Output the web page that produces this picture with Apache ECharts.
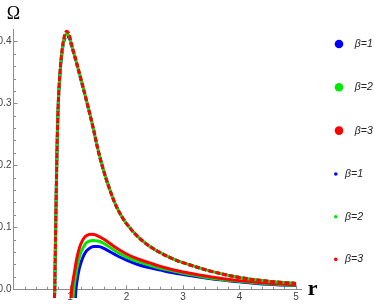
<!DOCTYPE html>
<html><head><meta charset="utf-8">
<script src="https://cdn.jsdelivr.net/npm/echarts@6/dist/echarts.min.js"></script>
<style>html,body{margin:0;padding:0;background:#fff}#c{width:374px;height:305px}</style>
</head><body><div id="c"></div>
<script>
// ---- data ----
const rDash = [0.725,0.73,0.74,0.75,0.76,0.77,0.78,0.79,0.805,0.825,0.846,0.87,0.9,0.94,0.98,1.02,1.06,1.1,1.2,1.3,1.4,1.5,1.6,1.7,1.8,1.9,2.0,2.2,2.4,2.6,2.8,3.0,3.5,4.0,4.5,5.0];
const dashRed   = [-0.014,0,0.06,0.12,0.175,0.225,0.265,0.295,0.325,0.353,0.375,0.394,0.409,0.417,0.413,0.399,0.385,0.372,0.338,0.302,0.265,0.224,0.19,0.162,0.138,0.12,0.106,0.085,0.07,0.059,0.05,0.043,0.029,0.019,0.013,0.0095];
const dashGreen = [-0.014,0,0.06,0.12,0.175,0.225,0.265,0.295,0.324,0.352,0.374,0.392,0.406,0.413,0.41,0.397,0.384,0.371,0.337,0.302,0.265,0.224,0.19,0.162,0.138,0.12,0.106,0.085,0.07,0.059,0.05,0.043,0.029,0.019,0.013,0.0095];
const dashBlue  = [-0.014,0,0.06,0.12,0.175,0.225,0.264,0.294,0.323,0.35,0.372,0.39,0.403,0.408,0.407,0.395,0.383,0.37,0.336,0.301,0.264,0.223,0.19,0.162,0.138,0.12,0.106,0.085,0.07,0.059,0.05,0.043,0.029,0.019,0.013,0.0095];

const rSolidRed   = [1.02,1.03,1.06,1.09,1.12,1.16,1.2,1.25,1.3,1.38,1.45,1.6,1.8,2.0,2.2,2.4,2.6,2.8,3.0,3.5,4.0,4.5,5.0];
const solidRed    = [-0.014,0,0.018,0.034,0.05,0.065,0.075,0.083,0.087,0.089,0.088,0.081,0.068,0.057,0.049,0.043,0.037,0.032,0.028,0.020,0.014,0.010,0.007];
const rSolidGreen = [1.055,1.065,1.09,1.12,1.16,1.2,1.25,1.3,1.4,1.5,1.6,1.8,2.0,2.2,2.4,2.6,2.8,3.0,3.5,4.0,4.5,5.0];
const solidGreen  = [-0.014,0,0.016,0.033,0.05,0.061,0.07,0.076,0.079,0.078,0.074,0.062,0.052,0.045,0.039,0.034,0.030,0.026,0.018,0.013,0.009,0.0065];
const rSolidBlue  = [1.095,1.105,1.13,1.16,1.2,1.25,1.3,1.42,1.5,1.6,1.8,2.0,2.2,2.4,2.6,2.8,3.0,3.5,4.0,4.5,5.0];
const solidBlue   = [-0.014,0,0.017,0.032,0.045,0.056,0.063,0.069,0.069,0.066,0.056,0.047,0.040,0.035,0.031,0.027,0.024,0.017,0.012,0.008,0.006];

const xMajorTicks = [0,1,2,3,4,5];
const xLabels = [1,2,3,4,5];
const xMinorTicks = [0.2,0.4,0.6,0.8,1.2,1.4,1.6,1.8,2.2,2.4,2.6,2.8,3.2,3.4,3.6,3.8,4.2,4.4,4.6,4.8];
const yMajorTicks = [0,0.1,0.2,0.3,0.4];
const yMinorTicks = [0.02,0.04,0.06,0.08,0.12,0.14,0.16,0.18,0.22,0.24,0.26,0.28,0.32,0.34,0.36,0.38];
const legendLabels = ['β=1','β=2','β=3','β=1','β=2','β=3'];
const seriesNames = ['s1','s2','s3','d1','d2','d3'];
const colors = {blue:'#0000ff', green:'#00e800', red:'#ff0000'};

function pairs(xs, ys){ return xs.map((x,i)=>[x, ys[i]]); }

const chart = echarts.init(document.getElementById('c'), null, {renderer:'canvas'});
const axisGray = '#8c8c8c';
const lblStyle = {fontFamily:'Liberation Sans', fontSize:10, color:'#444'};

function lineSeries(name, data, color, dash, offset, z){
  return {
    name, type:'line', data, showSymbol:false, symbol:'circle', smooth:0.35,
    clip:false, z,
    itemStyle:{color},
    lineStyle:{color, width:3, type: dash || 'solid', dashOffset: offset || 0, cap:'butt'},
    emphasis:{disabled:true}
  };
}

const legendText = {fontFamily:'Liberation Sans', fontSize:10.5, color:'#222', fontStyle:'italic', lineHeight:12};

const option = {
  animation:false,
  grid:{left:13.5, right:72.3, top:29.3, bottom:15.7, containLabel:false, outerBoundsMode:'none'},
  xAxis:[{
    type:'value', min:0, max:5.1,
    name:'r', nameLocation:'end', nameGap:6,
    nameTextStyle:{fontFamily:'Liberation Serif', fontWeight:'bold', fontSize:22, color:'#000', verticalAlign:'middle', padding:[0,0,6,0]},
    axisLine:{show:true, onZero:false, lineStyle:{color:axisGray, width:1}},
    axisTick:{show:true, inside:true, length:4, lineStyle:{color:axisGray}, customValues:xMajorTicks},
    axisLabel:{show:true, margin:3, customValues:xLabels, ...lblStyle},
    splitLine:{show:false}
  },{
    type:'value', min:0, max:5.1, position:'bottom',
    axisLine:{show:false},
    axisTick:{show:true, inside:true, length:2.5, lineStyle:{color:axisGray}, customValues:xMinorTicks},
    axisLabel:{show:false},
    splitLine:{show:false}
  }],
  yAxis:[{
    type:'value', min:0, max:0.42,
    name:'Ω', nameLocation:'end', nameGap:6,
    nameTextStyle:{fontFamily:'Liberation Serif', fontSize:18, color:'#000', align:'center'},
    axisLine:{show:true, onZero:false, lineStyle:{color:axisGray, width:1}},
    axisTick:{show:true, inside:true, length:4, lineStyle:{color:axisGray}, customValues:yMajorTicks},
    axisLabel:{show:true, margin:2, customValues:yMajorTicks, formatter:v=>v.toFixed(1), ...lblStyle},
    splitLine:{show:false}
  },{
    type:'value', min:0, max:0.42, position:'left',
    axisLine:{show:false},
    axisTick:{show:true, inside:true, length:2.5, lineStyle:{color:axisGray}, customValues:yMinorTicks},
    axisLabel:{show:false},
    splitLine:{show:false}
  }],
  legend:[{
    orient:'vertical', left:334.7, top:38, padding:0, itemWidth:8.6, itemHeight:8.6, itemGap:31.3, icon:'circle',
    data:['s1','s2','s3'],
    formatter:n=>legendLabels[seriesNames.indexOf(n)],
    textStyle:{...legendText, padding:[0,0,0,6.5]},
    itemStyle:{borderWidth:0}, selectedMode:false
  },{
    orient:'vertical', left:334, top:168, padding:0, itemWidth:3.6, itemHeight:3.6, itemGap:30.7, icon:'circle',
    data:['d1','d2','d3'],
    formatter:n=>legendLabels[seriesNames.indexOf(n)],
    textStyle:{...legendText, padding:[0,0,0,2.5]},
    itemStyle:{borderWidth:0}, selectedMode:false
  }],
  series:[
    lineSeries('s1', pairs(rSolidBlue, solidBlue), colors.blue, 'solid', 0, 3),
    lineSeries('s2', pairs(rSolidGreen, solidGreen), colors.green, 'solid', 0, 4),
    lineSeries('s3', pairs(rSolidRed, solidRed), colors.red, 'solid', 0, 5),
    lineSeries('d1', pairs(rDash, dashBlue), colors.blue, [5,2], 3, 6),
    lineSeries('d2', pairs(rDash, dashGreen), colors.green, 'solid', 0, 7),
    lineSeries('d3', pairs(rDash, dashRed), colors.red, [5,2], 0, 8)
  ]
};
chart.setOption(option);
</script></body></html>
